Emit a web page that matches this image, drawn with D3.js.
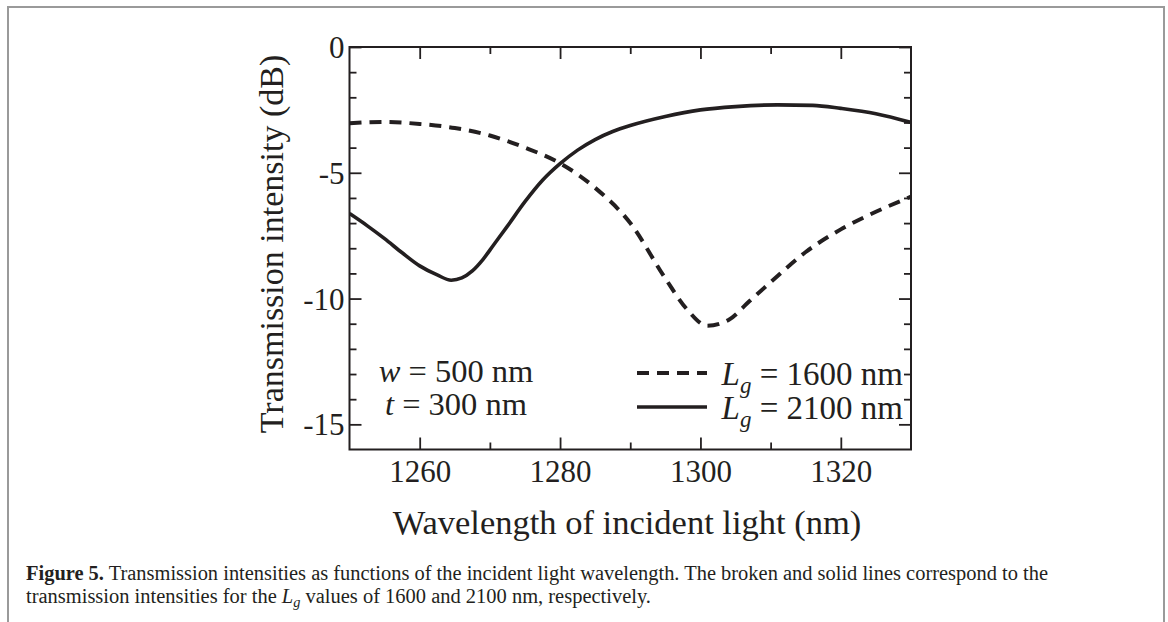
<!DOCTYPE html>
<html>
<head>
<meta charset="utf-8">
<script src="https://cdn.jsdelivr.net/npm/d3@7"></script>
<style>
  html, body { margin: 0; padding: 0; background: #fff; }
  svg { display: block; font-family: "Liberation Serif", "Times New Roman", serif; }
</style>
</head>
<body>
<div id="chart"></div>
<script>
// wavelength (nm) / transmission (dB)
var wlDash = [1250, 1255, 1260, 1265, 1270, 1275, 1280, 1285, 1290, 1295, 1298, 1301, 1304, 1307, 1310, 1315, 1320, 1325, 1330];
var lg1600 = [-3.03, -2.98, -3.06, -3.22, -3.52, -4.0, -4.62, -5.6, -7.0, -9.2, -10.4, -11.08, -10.85, -10.1, -9.35, -8.15, -7.25, -6.55, -5.95];
var wlSolid = [1250, 1252.5, 1255, 1257.5, 1260, 1262.5, 1264.5, 1266, 1267.5, 1269, 1270.5, 1272.5, 1275, 1277.5, 1280, 1282.5, 1285, 1287.5, 1290, 1295, 1300, 1305, 1311, 1316, 1320, 1325, 1330];
var lg2100 = [-6.62, -7.1, -7.62, -8.18, -8.7, -9.06, -9.27, -9.18, -8.9, -8.45, -7.88, -7.12, -6.15, -5.3, -4.64, -4.1, -3.68, -3.36, -3.12, -2.76, -2.5, -2.37, -2.3, -2.32, -2.44, -2.65, -3.0];
var xMajor = [1260, 1280, 1300, 1320];
var xMinor = [1270, 1290, 1310];
var yMajor = [0, -5, -10, -15];
var yMinor = [-1, -2, -3, -4, -6, -7, -8, -9, -11, -12, -13, -14];

(function () {
  var W = 1168, H = 622, ink = "#231f20";
  var svg = d3.select("#chart").append("svg").attr("width", W).attr("height", H);

  // page frame (open at the bottom, like the journal crop)
  svg.append("path")
    .attr("d", "M8,630 V7 H1164 V630")
    .attr("fill", "none").attr("stroke", "#9a9a9a").attr("stroke-width", 2);

  var m = { left: 349.5, top: 47, right: 911, bottom: 449.5 };
  var x = d3.scaleLinear().domain([1250, 1330]).range([m.left, m.right]);
  var y = d3.scaleLinear().domain([-16, 0]).range([m.bottom, m.top]);

  function style(sel) {
    sel.select(".domain").remove();
    sel.selectAll("line").attr("stroke", ink).attr("stroke-width", 1.8);
    sel.selectAll("text").attr("fill", ink).attr("font-size", "31px")
      .attr("font-family", "\"Liberation Serif\", \"Times New Roman\", serif");
  }
  function noLabels(d) { return ""; }
  function plain(d) { return String(d); } // hyphen minus, as in the figure

  // bottom
  svg.append("g").attr("transform", "translate(0," + m.bottom + ")")
    .call(d3.axisBottom(x).tickValues(xMajor).tickSize(-12).tickFormat(plain))
    .call(style)
    .selectAll("text").attr("y", 32).attr("dy", null);
  svg.append("g").attr("transform", "translate(0," + m.bottom + ")")
    .call(d3.axisBottom(x).tickValues(xMinor).tickSize(-7).tickFormat(noLabels)).call(style);
  // top
  svg.append("g").attr("transform", "translate(0," + m.top + ")")
    .call(d3.axisTop(x).tickValues(xMajor).tickSize(-12).tickFormat(noLabels)).call(style);
  svg.append("g").attr("transform", "translate(0," + m.top + ")")
    .call(d3.axisTop(x).tickValues(xMinor).tickSize(-7).tickFormat(noLabels)).call(style);
  // left
  svg.append("g").attr("transform", "translate(" + m.left + ",0)")
    .call(d3.axisLeft(y).tickValues(yMajor).tickSize(-12).tickPadding(5).tickFormat(plain))
    .call(style)
    .selectAll("text").attr("dy", "0.34em");
  svg.append("g").attr("transform", "translate(" + m.left + ",0)")
    .call(d3.axisLeft(y).tickValues(yMinor).tickSize(-7).tickFormat(noLabels)).call(style);
  // right
  svg.append("g").attr("transform", "translate(" + m.right + ",0)")
    .call(d3.axisRight(y).tickValues(yMajor).tickSize(-12).tickFormat(noLabels)).call(style);
  svg.append("g").attr("transform", "translate(" + m.right + ",0)")
    .call(d3.axisRight(y).tickValues(yMinor).tickSize(-7).tickFormat(noLabels)).call(style);

  svg.append("defs").append("clipPath").attr("id", "plot")
    .append("rect").attr("x", m.left).attr("y", m.top)
    .attr("width", m.right - m.left).attr("height", m.bottom - m.top);

  var line = d3.line().curve(d3.curveMonotoneX)
    .x(function (d) { return x(d[0]); })
    .y(function (d) { return y(d[1]); });

  var plot = svg.append("g").attr("clip-path", "url(#plot)");
  plot.append("path").datum(d3.zip(wlDash, lg1600))
    .attr("fill", "none").attr("stroke", ink).attr("stroke-width", 4)
    .attr("stroke-dasharray", "12 8").attr("d", line);
  plot.append("path").datum(d3.zip(wlSolid, lg2100))
    .attr("fill", "none").attr("stroke", ink).attr("stroke-width", 3.6).attr("d", line);

  // frame
  svg.append("rect").attr("x", m.left).attr("y", m.top)
    .attr("width", m.right - m.left).attr("height", m.bottom - m.top)
    .attr("fill", "none").attr("stroke", ink).attr("stroke-width", 2);

  // axis titles
  svg.append("text").attr("x", 627).attr("y", 534)
    .attr("text-anchor", "middle").attr("font-size", "34.5px").attr("fill", ink)
    .text("Wavelength of incident light (nm)");
  svg.append("text").attr("transform", "translate(283,244) rotate(-90)")
    .attr("text-anchor", "middle").attr("font-size", "34px").attr("fill", ink)
    .text("Transmission intensity (dB)");

  // parameters
  var par = svg.append("g").attr("font-size", "32.5px").attr("fill", ink)
    .attr("text-anchor", "middle");
  var p1 = par.append("text").attr("x", 456).attr("y", 382);
  p1.append("tspan").attr("font-style", "italic").text("w");
  p1.append("tspan").text(" = 500 nm");
  var p2 = par.append("text").attr("x", 456).attr("y", 415);
  p2.append("tspan").attr("font-style", "italic").text("t");
  p2.append("tspan").text(" = 300 nm");

  // legend
  var leg = [
    { v: "1600", dash: "12 8", w: 4, ly: 373, ty: 385 },
    { v: "2100", dash: null, w: 3.6, ly: 407, ty: 419 }
  ];
  leg.forEach(function (d) {
    svg.append("line").attr("x1", 637).attr("x2", 707).attr("y1", d.ly).attr("y2", d.ly)
      .attr("stroke", ink).attr("stroke-width", d.w).attr("stroke-dasharray", d.dash);
    var t = svg.append("text").attr("x", 903).attr("y", d.ty).attr("text-anchor", "end")
      .attr("font-size", "33px").attr("fill", ink);
    t.append("tspan").attr("font-style", "italic").text("L");
    t.append("tspan").attr("font-style", "italic").attr("font-size", "23px").attr("dy", 8).text("g");
    t.append("tspan").attr("dy", -8).text(" = " + d.v + " nm");
  });

  // caption
  var cap = svg.append("g").attr("font-size", "20px").attr("fill", ink);
  var c1 = cap.append("text").attr("x", 26).attr("y", 580)
    .attr("textLength", 1022).attr("lengthAdjust", "spacingAndGlyphs");
  c1.append("tspan").attr("font-weight", "bold").text("Figure 5.");
  c1.append("tspan").text(" Transmission intensities as functions of the incident light wavelength. The broken and solid lines correspond to the");
  var c2 = cap.append("text").attr("x", 26).attr("y", 603)
    .attr("textLength", 625).attr("lengthAdjust", "spacingAndGlyphs");
  c2.append("tspan").text("transmission intensities for the ");
  c2.append("tspan").attr("font-style", "italic").text("L");
  c2.append("tspan").attr("font-style", "italic").attr("font-size", "14px").attr("dy", 4).text("g");
  c2.append("tspan").attr("dy", -4).text(" values of 1600 and 2100 nm, respectively.");
})();
</script>
</body>
</html>
